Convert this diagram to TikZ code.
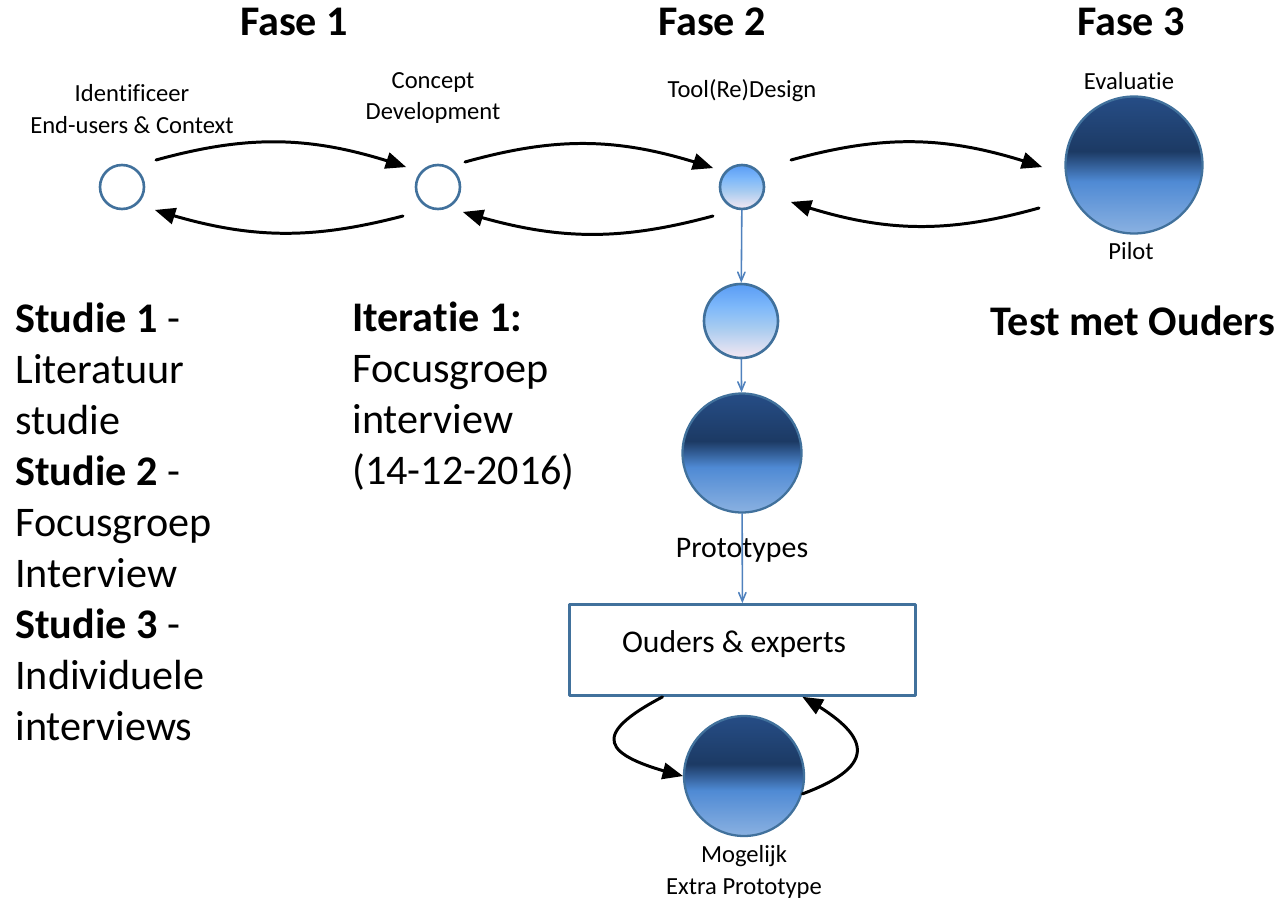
\documentclass[tikz,border=0pt]{standalone}
\usepackage{fontspec}
\setmainfont{Carlito}[Ligatures={TeX,NoCommon}]
\usepackage{tikz}
\usetikzlibrary{arrows}
\definecolor{ringblue}{HTML}{41719C}
\definecolor{flowblue}{HTML}{4F81BD}
\definecolor{dkA}{HTML}{8AB1E1}
\definecolor{dkB}{HTML}{4F8AD4}
\definecolor{dkC}{HTML}{1C3A64}
\definecolor{dkD}{HTML}{264D86}
\definecolor{ltA}{HTML}{F5E8F2}
\definecolor{ltB}{HTML}{A9CCF0}
\definecolor{ltC}{HTML}{7DB8FA}
\definecolor{ltD}{HTML}{5A9CF5}
\pgfdeclareverticalshading{balldark}{100bp}{color(0bp)=(dkA); color(25bp)=(dkA); color(44bp)=(dkB); color(55bp)=(dkC); color(75bp)=(dkD); color(100bp)=(dkD)}
\pgfdeclareverticalshading{balllight}{100bp}{color(0bp)=(ltA); color(25bp)=(ltA); color(45bp)=(ltB); color(60bp)=(ltC); color(75bp)=(ltD); color(100bp)=(ltD)}

\begin{document}
\begin{tikzpicture}[x=0.02cm,y=-0.02cm,line cap=round,line join=round,>=triangle 45,
    ring/.style={circle,draw=ringblue,line width=1.5pt,minimum size=0.88cm,inner sep=0pt},
    lightball/.style={ring,shade,shading=balllight},
    darkball/.style={circle,draw=ringblue,line width=1.3pt,inner sep=0pt,shade,shading=balldark},
    loopline/.style={->,color=black,line width=1.7pt},
    downline/.style={->,>=angle 45,color=flowblue,line width=0.9pt},
    small/.style={font=\fontsize{14}{18}\selectfont,align=center},
    phase/.style={font=\fontsize{24}{29}\selectfont\bfseries,anchor=base},
    notes/.style={font=\fontsize{24}{29}\selectfont,align=left,anchor=north west,inner sep=0pt}]
        \useasboundingbox (0,0) rectangle (1282,899);
        % fases
        \node[phase] (fase1) at (294,35) {Fase 1};
        \node[phase] (fase2) at (712,35) {Fase 2};
        \node[phase] (fase3) at (1131,35) {Fase 3};
        % bovenste rij
        \node[ring] (ident) at (122,187) {};
        \node[ring] (concept) at (438,187) {};
        \node[lightball] (tool) at (742,187) {};
        \node[darkball,minimum size=2.74cm] (evaluatie) at (1134,165) {};
        \node[small] (identtxt) at (132,109) {Identificeer\\End-users \& Context};
        \node[small] (concepttxt) at (433,98) {Concept\\Development};
        \node[small,anchor=base] (tooltxt) at (742,97) {Tool(Re)Design};
        \node[small,anchor=base] (evaltxt) at (1129,89) {Evaluatie};
        \node[small,anchor=base] (pilottxt) at (1131,259) {Pilot};
        \draw[loopline] ([shift={(34,-27)}]ident.center) to[bend left=17] ([shift={(-32,-20)}]concept.center);
        \draw[loopline] ([shift={(-35,29)}]concept.center) to[bend left=16] ([shift={(33,23)}]ident.center);
        \draw[loopline] ([shift={(27,-25)}]concept.center) to[bend left=17] ([shift={(-29,-19)}]tool.center);
        \draw[loopline] ([shift={(-29,29)}]tool.center) to[bend left=16] ([shift={(25,25)}]concept.center);
        \draw[loopline] ([shift={(49,-27)}]tool.center) to[bend left=17] ([shift={(-92,2)}]evaluatie.center);
        \draw[loopline] ([shift={(-95,43)}]evaluatie.center) to[bend left=17] ([shift={(49,15)}]tool.center);
        % prototypes
        \node[lightball,minimum size=1.48cm] (proto1) at (741,321) {};
        \node[darkball,minimum size=2.38cm] (proto2) at (742,453) {};
        \node[draw=ringblue,line width=1.6pt,minimum width=6.92cm,minimum height=1.82cm] (panel) at (742.5,650) {};
        \node[darkball,minimum size=2.4cm] (extra) at (744,776) {};
        \draw[downline] (tool) -- (proto1);
        \draw[downline] (proto1) -- (proto2);
        \draw[downline] (proto2) -- (panel);
        \node[font=\fontsize{17}{20}\selectfont,anchor=base] (prototxt) at (742,557) {Prototypes};
        \node[font=\fontsize{18}{22}\selectfont,anchor=base] (paneltxt) at (734,652) {Ouders \& experts};
        \node[small] (extratxt) at (744,872) {Mogelijk\\Extra Prototype};
        \draw[loopline] ([shift={(-80,0)}]panel.south) .. controls +(-72,38) and +(-82,-21) .. (extra.west);
        \draw[loopline] (extra.-17) .. controls +(78,-29) and +(67,38) .. ([shift={(60,0)}]panel.south);
        % teksten
        \node[notes] (studies) at (15,303) {\textbf{Studie 1} -\\Literatuur\\studie\\\textbf{Studie 2} -\\Focusgroep\\Interview\\\textbf{Studie 3} -\\Individuele\\interviews};
        \node[notes] (iteratie) at (352,302) {\textbf{Iteratie 1:}\\Focusgroep\\interview\\(14-12-2016)};
        \node[phase] (test) at (1133,335) {Test met Ouders};
      \end{tikzpicture}
\end{document}
